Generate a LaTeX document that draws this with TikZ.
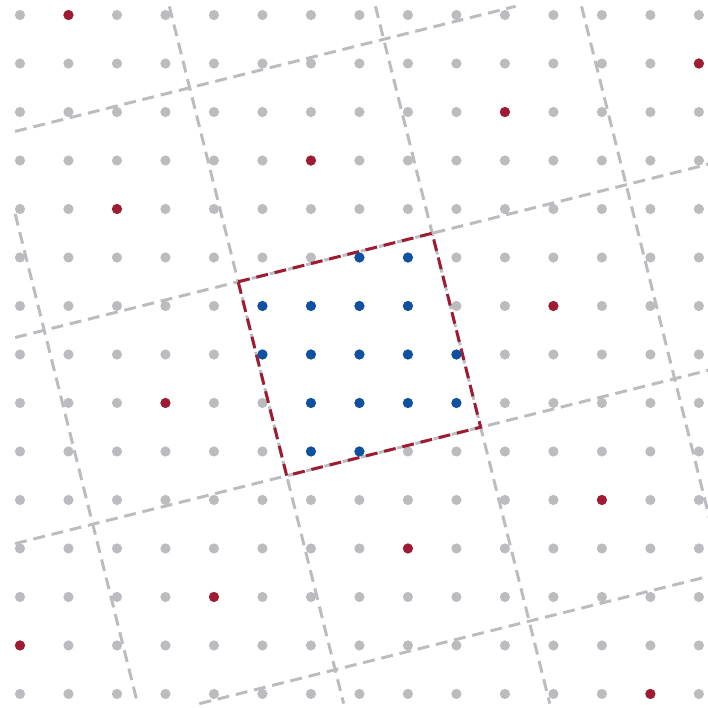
\documentclass[tikz,border=0pt]{standalone}
\definecolor{dotgray}{RGB}{188,188,192}
\definecolor{latred}{RGB}{158,27,50}
\definecolor{latblue}{RGB}{12,82,160}
\tikzset{
  gridline/.style={draw=dotgray, line width=1.75pt, dash pattern=on 7pt off 4pt},
  cellline/.style={draw=latred, line width=1.75pt, dash pattern=on 7pt off 4pt},
  gdot/.style={fill=dotgray},
  rdot/.style={fill=latred},
  bdot/.style={fill=latblue}
}
\def\xl{-0.1}\def\xr{14.25}\def\yt{-0.18}\def\yb{14.2}
\begin{document}
\begin{tikzpicture}[x=1cm,y=-1cm]
\useasboundingbox (-0.412,-0.31) rectangle (14.186,14.29);
% grey dashed lattice of cells, each line cut to the window
\foreach \k in {-4,...,4}{
  % direction (4,-1)
  \pgfmathsetmacro\ta{max((\xl-4.5-\k)/4, 5.5+4*\k-\yb)}
  \pgfmathsetmacro\tb{min((\xr-4.5-\k)/4, 5.5+4*\k-\yt)}
  \pgfmathparse{\ta<\tb ? 1 : 0}
  \ifnum\pgfmathresult=1
    \draw[gridline] ({4.5+\k+4*\ta},{5.5+4*\k-\ta}) -- ({4.5+\k+4*\tb},{5.5+4*\k-\tb});
  \fi
  % direction (1,4)
  \pgfmathsetmacro\sa{max(\xl-4.5-4*\k, (\yt-5.5+\k)/4)}
  \pgfmathsetmacro\sb{min(\xr-4.5-4*\k, (\yb-5.5+\k)/4)}
  \pgfmathparse{\sa<\sb ? 1 : 0}
  \ifnum\pgfmathresult=1
    \draw[gridline] ({4.5+4*\k+\sa},{5.5-\k+4*\sa}) -- ({4.5+4*\k+\sb},{5.5-\k+4*\sb});
  \fi
}
% grey dots
\foreach \i in {0,...,14}{
  \foreach \j in {0,...,14}{
    \fill[gdot] (\i,\j) circle (0.105);
  }
}
% fundamental cell
\coordinate (c1) at (4.5,5.5);
\coordinate (c2) at (8.5,4.5);
\coordinate (c3) at (9.5,8.5);
\coordinate (c4) at (5.5,9.5);
\draw[cellline] (c1) -- (c2) -- (c3) -- (c4) -- cycle;
% red sublattice points
\foreach \p in {(1,0),(14,1),(10,2),(6,3),(2,4),(11,6),(3,8),(12,10),(8,11),(4,12),(0,13),(13,14)}{
  \fill[rdot] \p circle (0.105);
}
% blue points inside the cell
\foreach \p in {(7,5),(8,5),(5,6),(6,6),(7,6),(8,6),(5,7),(6,7),(7,7),(8,7),(9,7),(6,8),(7,8),(8,8),(9,8),(6,9),(7,9)}{
  \fill[bdot] \p circle (0.105);
}
\end{tikzpicture}
\end{document}
